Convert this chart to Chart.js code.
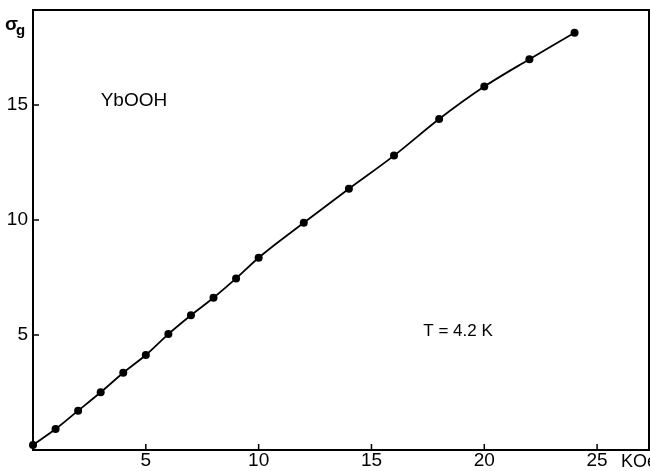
<!DOCTYPE html>
<html>
<head>
<meta charset="utf-8">
<script src="https://cdn.jsdelivr.net/npm/chart.js@4"></script>
<style>
  body { margin: 0; background: #fff; }
  canvas { display: block; }
</style>
</head>
<body>
<canvas id="chart" width="650" height="471"></canvas>
<script>
"use strict";

// Field (KOe) and sigma_g
const fieldKOe = [0, 1, 2, 3, 4, 5, 6, 7, 8, 9, 10, 12, 14, 16, 18, 20, 22, 24];
const sigmaG   = [0.22, 0.91, 1.71, 2.51, 3.36, 4.13, 5.04, 5.86, 6.62, 7.46, 8.36,
                  9.88, 11.36, 12.8, 14.39, 15.8, 16.99, 18.14];

const xTicks = [5, 10, 15, 20, 25];
const yTicks = [5, 10, 15];

const FONT = "Liberation Sans, Arial, sans-serif";

// Box frame, inward tick marks and the text labels
const decorations = {
    id: "decorations",
    afterDraw(chart) {
        const { ctx, chartArea: a, scales: { x, y } } = chart;
        ctx.save();
        ctx.strokeStyle = "#000";
        ctx.lineWidth = 2;
        ctx.strokeRect(a.left, a.top, a.right - a.left, a.bottom - a.top);

        ctx.lineWidth = 1.5;
        ctx.beginPath();
        xTicks.forEach(v => {
            const px = x.getPixelForValue(v);
            ctx.moveTo(px, a.bottom);
            ctx.lineTo(px, a.bottom - 6);
        });
        yTicks.forEach(v => {
            const py = y.getPixelForValue(v);
            ctx.moveTo(a.left, py);
            ctx.lineTo(a.left + 6, py);
        });
        ctx.stroke();

        ctx.fillStyle = "#000";
        ctx.textBaseline = "middle";
        ctx.textAlign = "left";

        ctx.font = `19px ${FONT}`;
        ctx.fillText("YbOOH", x.getPixelForValue(3.0), y.getPixelForValue(15.2));

        ctx.font = `17px ${FONT}`;
        ctx.fillText("T = 4.2 K", x.getPixelForValue(17.3), y.getPixelForValue(5.17));

        // axis titles
        ctx.font = `18px ${FONT}`;
        ctx.fillText("KOe", 621, 462);
        ctx.font = `bold 19px ${FONT}`;
        ctx.fillText("σ", 5, 25);
        ctx.font = `bold 15px ${FONT}`;
        ctx.fillText("g", 16, 31);
        ctx.restore();
    }
};

new Chart(document.getElementById("chart"), {
    type: "line",
    data: {
        datasets: [{
            data: fieldKOe.map((v, i) => ({ x: v, y: sigmaG[i] })),
            borderColor: "#000",
            borderWidth: 1.8,
            backgroundColor: "#000",
            pointRadius: 4,
            pointBackgroundColor: "#000",
            pointBorderWidth: 0,
            cubicInterpolationMode: "monotone",
            fill: false,
            clip: false
        }]
    },
    options: {
        responsive: false,
        animation: false,
        layout: { autoPadding: false, padding: { top: 10, right: 1, left: 0, bottom: 0 } },
        plugins: { legend: { display: false }, tooltip: { enabled: false } },
        scales: {
            x: {
                type: "linear",
                min: 0,
                max: 27.3,
                afterBuildTicks: s => { s.ticks = xTicks.map(v => ({ value: v })); },
                afterFit: s => { s.height = 21; s.paddingLeft = 0; s.paddingRight = 0; },
                grid: { display: false, drawTicks: false },
                border: { display: false },
                ticks: { color: "#000", padding: 1, font: { family: FONT, size: 19, lineHeight: 1 } }
            },
            y: {
                type: "linear",
                min: 0,
                max: 19.13,
                afterBuildTicks: s => { s.ticks = yTicks.map(v => ({ value: v })); },
                afterFit: s => { s.width = 33; s.paddingTop = 0; s.paddingBottom = 0; },
                grid: { display: false, drawTicks: false },
                border: { display: false },
                ticks: { color: "#000", padding: 5, font: { family: FONT, size: 19, lineHeight: 1 } }
            }
        }
    },
    plugins: [decorations]
});
</script>
</body>
</html>
